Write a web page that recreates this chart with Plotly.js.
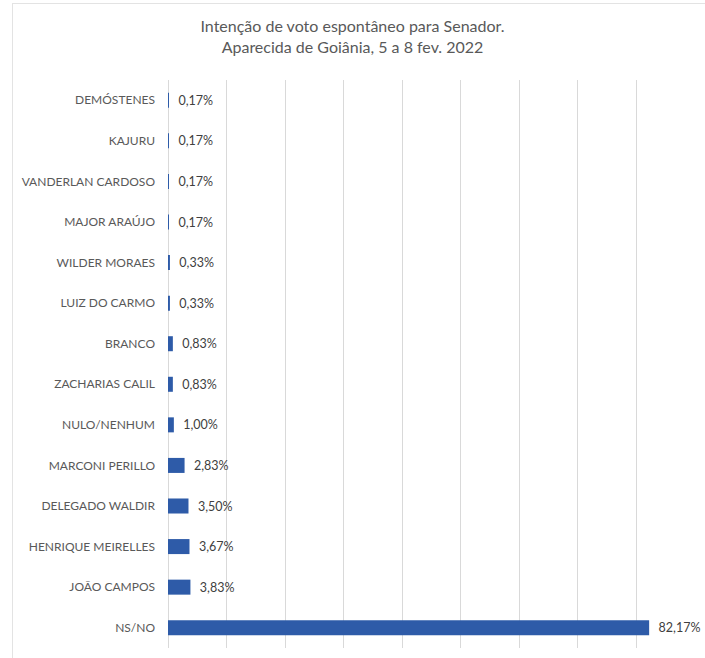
<!DOCTYPE html>
<html>
<head>
<meta charset="utf-8">
<script src="https://cdn.plot.ly/plotly-3.0.1.min.js"></script>
<style>
  html, body { margin: 0; padding: 0; background: #ffffff; }
  #frame { position: absolute; left: 12px; top: 3px; width: 700px; height: 660px; border-left: 1px solid #e3e3e3; border-top: 1px solid #e3e3e3; }
  #chart { position: absolute; left: 0; top: 0; width: 705px; height: 658px; }
</style>
</head>
<body>
<div id="frame"></div>
<div id="chart"></div>
<script>
const categories = ["DEMÓSTENES", "KAJURU", "VANDERLAN CARDOSO", "MAJOR ARAÚJO", "WILDER MORAES", "LUIZ DO CARMO", "BRANCO", "ZACHARIAS CALIL", "NULO/NENHUM", "MARCONI PERILLO", "DELEGADO WALDIR", "HENRIQUE MEIRELLES", "JOÃO CAMPOS", "NS/NO"];
const values = [0.17, 0.17, 0.17, 0.17, 0.33, 0.33, 0.83, 0.83, 1.00, 2.83, 3.50, 3.67, 3.83, 82.17];
const valueLabels = ["0,17%", "0,17%", "0,17%", "0,17%", "0,33%", "0,33%", "0,83%", "0,83%", "1,00%", "2,83%", "3,50%", "3,67%", "3,83%", "82,17%"];
const titleLines = ["Intenção de voto espontâneo para Senador.", "Aparecida de Goiânia, 5 a 8 fev. 2022"];

const trace = {
  type: 'bar',
  orientation: 'h',
  x: values,
  y: categories,
  text: valueLabels.map(t => '\u00a0\u00a0' + t),
  textposition: 'outside',
  cliponaxis: false,
  textfont: { family: 'Lato, sans-serif', size: 12.5, color: '#404040' },
  marker: { color: '#2E5BA8' },
  hoverinfo: 'skip'
};

const layout = {
  width: 705,
  height: 658,
  paper_bgcolor: 'rgba(0,0,0,0)',
  plot_bgcolor: 'rgba(0,0,0,0)',
  margin: { l: 168, r: 10, t: 80, b: 10 },
  showlegend: false,
  bargap: 0.63,
  title: {
    text: titleLines.join('<br>'),
    x: 0.5,
    xref: 'container',
    xanchor: 'center',
    y: 1 - 32 / 658,
    yref: 'container',
    yanchor: 'middle',
    font: { family: 'Lato, sans-serif', size: 16, color: '#595959' }
  },
  xaxis: {
    range: [0, 90],
    dtick: 10,
    showticklabels: false,
    showgrid: true,
    gridcolor: '#d9d9d9',
    gridwidth: 1,
    zeroline: true,
    zerolinecolor: '#d9d9d9',
    zerolinewidth: 1,
    showline: false,
    fixedrange: true
  },
  yaxis: {
    type: 'category',
    autorange: 'reversed',
    showgrid: false,
    zeroline: false,
    showline: false,
    ticks: '',
    ticklabelstandoff: 12,
    tickfont: { family: 'Lato, sans-serif', size: 12, color: '#595959' },
    fixedrange: true
  }
};

Plotly.newPlot('chart', [trace], layout, { displayModeBar: false, staticPlot: true });
</script>
</body>
</html>
